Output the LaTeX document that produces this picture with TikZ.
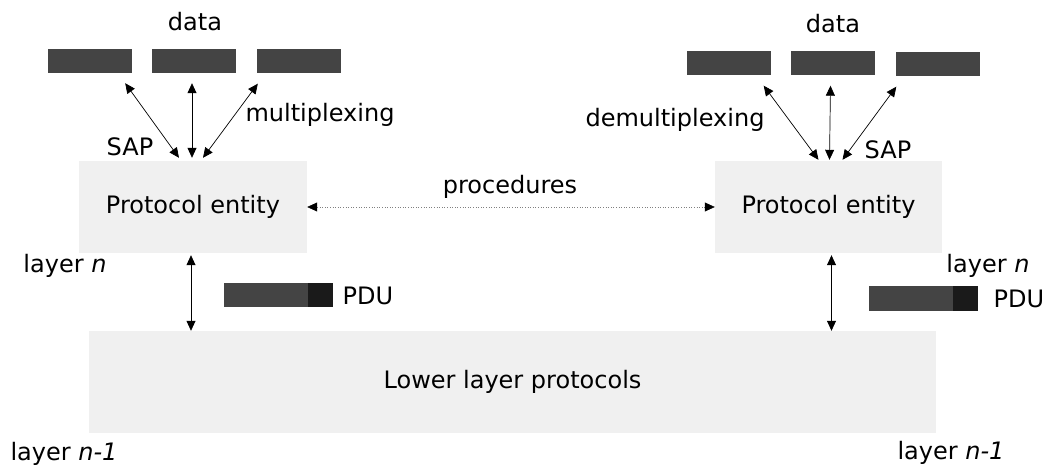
\documentclass[tikz,border=0pt]{standalone}
\usepackage{fontspec}
\setmainfont{DejaVu Sans}
\usetikzlibrary{arrows.meta,calc}
\definecolor{entitygray}{HTML}{F0F0F0}
\definecolor{datagray}{HTML}{444444}
\definecolor{headgray}{HTML}{1A1A1A}
\begin{document}
\begin{tikzpicture}[x=1pt, y=-1pt, font=\fontsize{24}{28}\selectfont,
  entity/.style={fill=entitygray, minimum width=#1, inner sep=0pt},
  databox/.style={fill=datagray, minimum width=84pt, minimum height=24pt, inner sep=0pt},
  pdubody/.style={fill=datagray, minimum width=84pt, minimum height=24pt, inner sep=0pt},
  pduhead/.style={fill=headgray, minimum width=25pt, minimum height=24pt, inner sep=0pt},
  lbl/.style={inner sep=0pt},
  sap/.style={{Triangle[length=10pt,width=9pt]}-{Triangle[length=10pt,width=9pt]}, line width=0.7pt},
  proc/.style={{Triangle[length=10pt,width=9pt,black]}-{Triangle[length=10pt,width=9pt,black]},
               line width=0.6pt, dotted, gray}
]
  \useasboundingbox (0,0) rectangle (1053,473);
  % sending side
  \node[entity=228pt, minimum height=92pt] (entL) at (193,207) {Protocol entity};
  \node[databox] (dl1) at (90,61) {};
  \node[databox] (dl2) at (194,61) {};
  \node[databox] (dl3) at (299,61.5) {};
  \node[lbl] (dataL) at (195,22) {data};
  \draw[sap] ($(dl1.south east)+(-7,10)$) -- ($(entL.north)+(-14,-3)$);
  \draw[sap] ($(dl2.south)+(-2,10)$) -- ($(entL.north)+(-1,-3)$);
  \draw[sap] ($(dl3.south west)+(1,10)$) -- ($(entL.north)+(10,-3)$);
  \node[lbl] (sapL) at (130,147) {SAP};
  \node[lbl] (mux) at (320,115) {multiplexing};
  % receiving side
  \node[entity=227pt, minimum height=92pt] (entR) at (828.5,207) {Protocol entity};
  \node[databox] (dr1) at (728.5,63.5) {};
  \node[databox] (dr2) at (832.5,63.5) {};
  \node[databox] (dr3) at (937.5,64.5) {};
  \node[lbl] (dataR) at (833,24) {data};
  \draw[sap] ($(dr1.south east)+(-7,10)$) -- ($(entR.north)+(-10,-1)$);
  \draw[sap] ($(dr2.south)+(-2,10)$) -- ($(entR.north)+(1,-1)$);
  \draw[sap] ($(dr3.south west)+(1,10)$) -- ($(entR.north)+(14,-1)$);
  \node[lbl] (sapR) at (888,150) {SAP};
  \node[lbl] (demux) at (675,120) {demultiplexing};
  % peer procedures
  \draw[proc] (entL.east) -- (entR.west);
  \node[lbl] (procs) at (510,187) {procedures};
  % lower layer
  \node[entity=847pt, minimum height=102pt] (lower) at (512.5,382) {Lower layer protocols};
  \draw[sap] ($(entL.south)+(-2,2)$) -- ($(entL.south |- lower.north)+(-2,0)$);
  \draw[sap] ($(entR.south)+(3,2)$) -- ($(entR.south |- lower.north)+(3,0)$);
  % PDUs
  \node[pdubody] (pduLb) at (265.5,295) {};
  \node[pduhead, anchor=west] (pduLh) at (pduLb.east) {};
  \node[lbl] (pduL) at (368,296) {PDU};
  \node[pdubody, minimum height=25pt] (pduRb) at (911,298.5) {};
  \node[pduhead, minimum height=25pt, anchor=west] (pduRh) at (pduRb.east) {};
  \node[lbl] (pduR) at (1019,299) {PDU};
  % layer labels
  \node[lbl] (layLn) at (65,266) {layer \textit{n}};
  \node[lbl] (layRn) at (988,266) {layer \textit{n}};
  \node[lbl] (layL1) at (64,454) {layer \textit{n-1}};
  \node[lbl] (layR1) at (951,453) {layer \textit{n-1}};
\end{tikzpicture}
\end{document}
